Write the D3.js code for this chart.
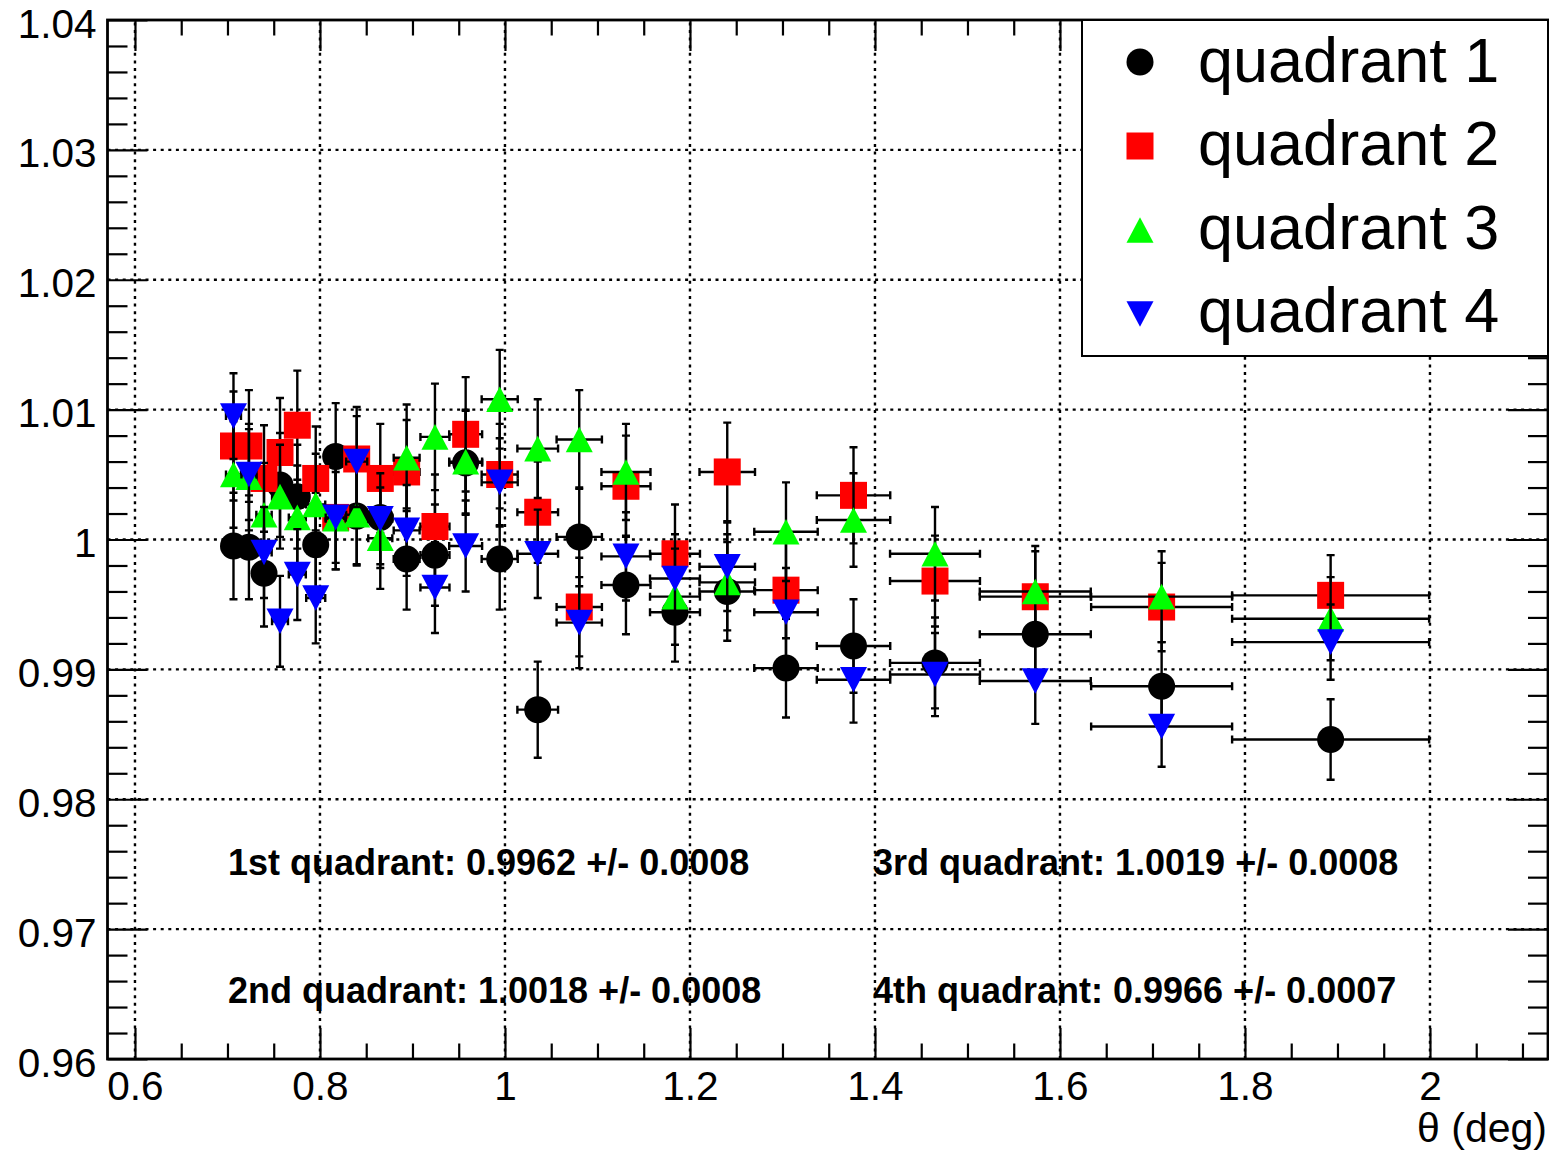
<!DOCTYPE html>
<html>
<head>
<meta charset="utf-8">
<script src="https://cdn.jsdelivr.net/npm/d3@7"></script>
<style>
  body { margin: 0; background: #fff; }
  svg { display: block; font-family: "Liberation Sans", Arial, Helvetica, sans-serif; }
</style>
</head>
<body>
<div id="chart"><svg></svg></div>
<script>
// bin centres (deg) and half widths
var theta    = [0.7065, 0.7232, 0.7395, 0.7568, 0.7755, 0.7954, 0.8170, 0.8397, 0.8652, 0.8937, 0.9243, 0.9575,
                0.9943, 1.0354, 1.0803, 1.1308, 1.1838, 1.2403, 1.3038, 1.3768, 1.4649, 1.5733, 1.7099, 1.8926];
var thetaErr = [0.0081, 0.0081, 0.0083, 0.0086, 0.0092, 0.0103, 0.0108, 0.0114, 0.0130, 0.0140, 0.0157, 0.0178,
                0.0195, 0.0220, 0.0245, 0.0265, 0.0270, 0.0300, 0.0343, 0.0397, 0.0486, 0.0600, 0.0762, 0.1065];

// ratio per quadrant
var q1 = [0.9995, 0.9994, 0.9974, 1.0042, 1.0033, 0.9996, 1.0064, 1.0018, 1.0017, 0.9985, 0.9988, 1.0059,
          0.9985, 0.9869, 1.0002, 0.9965, 0.9944, 0.9960, 0.9901, 0.9918, 0.9905, 0.9927, 0.9887, 0.9846];
var q2 = [1.0072, 1.0072, 1.0047, 1.0067, 1.0088, 1.0047, 1.0017, 1.0062, 1.0047, 1.0052, 1.0010, 1.0081,
          1.0050, 1.0021, 0.9948, 1.0041, 0.9989, 1.0052, 0.9961, 1.0034, 0.9968, 0.9956, 0.9948, 0.9957];
var q3 = [1.0050, 1.0048, 1.0019, 1.0033, 1.0017, 1.0027, 1.0016, 1.0019, 1.0001, 1.0063, 1.0079, 1.0060,
          1.0108, 1.0070, 1.0077, 1.0052, 0.9956, 0.9967, 1.0006, 1.0015, 0.9989, 0.9960, 0.9956, 0.9939];
var q4 = [1.0095, 1.0050, 0.9990, 0.9937, 0.9973, 0.9955, 1.0017, 1.0060, 1.0016, 1.0007, 0.9963, 0.9995,
          1.0044, 0.9989, 0.9936, 0.9987, 0.9970, 0.9979, 0.9944, 0.9892, 0.9896, 0.9891, 0.9856, 0.9921];

// vertical errors
var q1Err = [0.0041, 0.0040, 0.0041, 0.0040, 0.0040, 0.0040, 0.0041, 0.0037, 0.0039, 0.0039, 0.0039, 0.0040,
             0.0039, 0.0037, 0.0038, 0.0038, 0.0038, 0.0038, 0.0038, 0.0036, 0.0035, 0.0035, 0.0034, 0.0031];
var q2Err = [0.0042, 0.0043, 0.0041, 0.0042, 0.0042, 0.0040, 0.0040, 0.0040, 0.0042, 0.0040, 0.0040, 0.0044,
             0.0039, 0.0039, 0.0038, 0.0039, 0.0038, 0.0038, 0.0037, 0.0037, 0.0035, 0.0035, 0.0034, 0.0031];
var q3Err = [0.0041, 0.0041, 0.0040, 0.0040, 0.0040, 0.0039, 0.0039, 0.0039, 0.0039, 0.0041, 0.0041, 0.0040,
             0.0038, 0.0038, 0.0038, 0.0037, 0.0037, 0.0037, 0.0038, 0.0036, 0.0036, 0.0035, 0.0035, 0.0032];
var q4Err = [0.0033, 0.0035, 0.0035, 0.0035, 0.0035, 0.0035, 0.0035, 0.0035, 0.0035, 0.0035, 0.0035, 0.0035,
             0.0034, 0.0034, 0.0035, 0.0034, 0.0034, 0.0034, 0.0034, 0.0033, 0.0032, 0.0033, 0.0031, 0.0029];

var xTicks = [0.6, 0.8, 1, 1.2, 1.4, 1.6, 1.8, 2];
var yTicks = [0.96, 0.97, 0.98, 0.99, 1, 1.01, 1.02, 1.03, 1.04];
var legendLabels = ["quadrant 1", "quadrant 2", "quadrant 3", "quadrant 4"];
var fitLabels = ["1st quadrant: 0.9962 +/- 0.0008", "2nd quadrant: 1.0018 +/- 0.0008",
                 "3rd quadrant: 1.0019 +/- 0.0008", "4th quadrant: 0.9966 +/- 0.0007"];

var W = 1549, H = 1153;
var frame = { left: 107.5, right: 1548, top: 20, bottom: 1059 };

var svg = d3.select("#chart svg").attr("width", W).attr("height", H);
svg.append("rect").attr("width", W).attr("height", H).attr("fill", "#fff");

var x = d3.scaleLinear().domain([0.5703, 2.1276]).range([frame.left, frame.right]);
var y = d3.scaleLinear().domain([0.96, 1.04]).range([frame.bottom, frame.top]);

// marker shapes (ROOT style 20, 21, 22, 23)
function shapePath(shape, cx, cy) {
    var s = 13.5, t = 12.8;
    if (shape == "circle") {
        return "M" + (cx - s) + "," + cy + "a" + s + "," + s + " 0 1,0 " + (2 * s) + ",0a" + s + "," + s + " 0 1,0 " + (-2 * s) + ",0Z";
    } else if (shape == "square") {
        return "M" + (cx - s) + "," + (cy - s) + "h" + (2 * s) + "v" + (2 * s) + "h" + (-2 * s) + "Z";
    } else if (shape == "up") {
        return "M" + cx + "," + (cy - t) + "L" + (cx + s) + "," + (cy + t) + "L" + (cx - s) + "," + (cy + t) + "Z";
    }
    return "M" + cx + "," + (cy + t) + "L" + (cx + s) + "," + (cy - t) + "L" + (cx - s) + "," + (cy - t) + "Z";
}

var series = [
    { values: q1, errors: q1Err, color: "#000000", shape: "circle" },
    { values: q2, errors: q2Err, color: "#ff0000", shape: "square" },
    { values: q3, errors: q3Err, color: "#00ff00", shape: "up" },
    { values: q4, errors: q4Err, color: "#0000ff", shape: "down" }
];

// grid
var grid = svg.append("g").attr("stroke", "#000").attr("stroke-width", 2.4).attr("stroke-dasharray", "3,4.6");
grid.selectAll(".gx").data(xTicks).enter().append("line")
    .attr("x1", function (d) { return x(d); }).attr("x2", function (d) { return x(d); })
    .attr("y1", frame.bottom).attr("y2", frame.top);
grid.selectAll(".gy").data(yTicks.slice(1, -1)).enter().append("line")
    .attr("y1", function (d) { return y(d); }).attr("y2", function (d) { return y(d); })
    .attr("x1", frame.left).attr("x2", frame.right);

// minor tick positions
var xMinor = d3.range(0.65, 2.13, 0.05).filter(function (v) { return Math.abs(v * 5 - Math.round(v * 5)) > 0.01; });
var yMinor = d3.range(0.962, 1.04, 0.002).filter(function (v) { return Math.abs(v * 100 - Math.round(v * 100)) > 0.01; });

function styleAxis(g) {
    g.select(".domain").remove();
    g.selectAll("line").attr("stroke", "#000").attr("stroke-width", 2.2);
    g.selectAll("text").attr("font-size", 40.5).attr("fill", "#000")
        .attr("font-family", "'Liberation Sans', Arial, Helvetica, sans-serif");
}
var fmt = d3.format("~g");

svg.append("g").attr("transform", "translate(0," + frame.bottom + ")")
    .call(d3.axisBottom(x).tickValues(xTicks).tickSize(-31).tickPadding(12).tickFormat(fmt)).call(styleAxis);
svg.append("g").attr("transform", "translate(0," + frame.bottom + ")")
    .call(d3.axisBottom(x).tickValues(xMinor).tickSize(-15.5).tickFormat("")).call(styleAxis);
svg.append("g").attr("transform", "translate(0," + frame.top + ")")
    .call(d3.axisTop(x).tickValues(xTicks).tickSize(-31).tickFormat("")).call(styleAxis);
svg.append("g").attr("transform", "translate(0," + frame.top + ")")
    .call(d3.axisTop(x).tickValues(xMinor).tickSize(-15.5).tickFormat("")).call(styleAxis);

svg.append("g").attr("transform", "translate(" + frame.left + ",0)")
    .call(d3.axisLeft(y).tickValues(yTicks).tickSize(-40).tickPadding(11).tickFormat(fmt)).call(styleAxis)
    .selectAll("text").attr("dy", "0.42em");
svg.append("g").attr("transform", "translate(" + frame.left + ",0)")
    .call(d3.axisLeft(y).tickValues(yMinor).tickSize(-20).tickFormat("")).call(styleAxis);
svg.append("g").attr("transform", "translate(" + frame.right + ",0)")
    .call(d3.axisRight(y).tickValues(yTicks).tickSize(-40).tickFormat("")).call(styleAxis);
svg.append("g").attr("transform", "translate(" + frame.right + ",0)")
    .call(d3.axisRight(y).tickValues(yMinor).tickSize(-20).tickFormat("")).call(styleAxis);

// frame
svg.append("rect").attr("x", frame.left).attr("y", frame.top)
    .attr("width", frame.right - frame.left).attr("height", frame.bottom - frame.top)
    .attr("fill", "none").attr("stroke", "#000").attr("stroke-width", 2.8);

// axis title
svg.append("text").attr("x", 1547).attr("y", 1142).attr("text-anchor", "end")
    .attr("font-size", 41).text("\u03b8 (deg)");

// data: error bars then markers, series by series
var cap = 4;
series.forEach(function (s) {
    var pts = s.values.map(function (v, i) {
        return { x: theta[i], ex: thetaErr[i], y: v, ey: s.errors[i] };
    });
    var g = svg.append("g");
    var eb = g.append("g").attr("stroke", "#000").attr("stroke-width", 2.4).attr("fill", "none");
    eb.selectAll("path").data(pts).enter().append("path")
        .attr("d", function (d) {
            var cx = x(d.x), cy = y(d.y),
                x0 = x(d.x - d.ex), x1 = x(d.x + d.ex),
                y0 = y(d.y + d.ey), y1 = y(d.y - d.ey);
            return "M" + cx + "," + y0 + "V" + y1 +
                "M" + (cx - cap) + "," + y0 + "H" + (cx + cap) +
                "M" + (cx - cap) + "," + y1 + "H" + (cx + cap) +
                "M" + x0 + "," + cy + "H" + x1 +
                "M" + x0 + "," + (cy - cap) + "V" + (cy + cap) +
                "M" + x1 + "," + (cy - cap) + "V" + (cy + cap);
        });
    g.append("g").selectAll("path").data(pts).enter().append("path")
        .attr("d", function (d) { return shapePath(s.shape, x(d.x), y(d.y)); })
        .attr("fill", s.color);
});

// fit results
var fitPos = [[228, 875], [228, 1003], [873, 875], [873, 1003]];
svg.append("g").selectAll("text").data(fitLabels).enter().append("text")
    .attr("x", function (d, i) { return fitPos[i][0]; })
    .attr("y", function (d, i) { return fitPos[i][1]; })
    .attr("font-size", 36).attr("font-weight", "bold")
    .text(function (d) { return d; });

// legend
var legend = svg.append("g");
legend.append("rect").attr("x", 1082).attr("y", 20).attr("width", 466).attr("height", 336)
    .attr("fill", "#fff").attr("stroke", "#000").attr("stroke-width", 2);
var rows = legend.selectAll(".row").data(series).enter().append("g");
rows.append("path")
    .attr("d", function (d, i) { return shapePath(d.shape, 1140, 62 + i * 84); })
    .attr("fill", function (d) { return d.color; });
rows.append("text").attr("x", 1198)
    .attr("y", function (d, i) { return 82 + i * 83.4; })
    .attr("font-size", 63)
    .text(function (d, i) { return legendLabels[i]; });
</script>
</body>
</html>
